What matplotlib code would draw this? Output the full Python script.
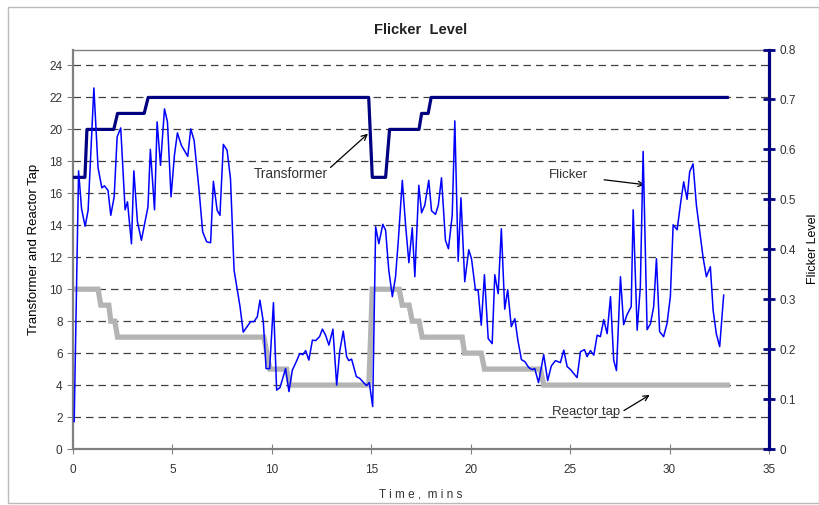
import matplotlib
matplotlib.use("Agg")
import matplotlib.pyplot as plt
from matplotlib.patches import Rectangle

# Flicker (right axis) - time in minutes, flicker level
flicker_t = [0.06, 0.28, 0.43, 0.61, 0.76, 1.05, 1.26, 1.45, 1.58, 1.76, 1.90, 2.07, 2.22, 2.40,
             2.62, 2.74, 2.94, 3.06, 3.24, 3.44, 3.77, 3.89, 4.10, 4.23, 4.40, 4.60, 4.75, 4.93,
             5.10, 5.25, 5.45, 5.77, 5.92, 6.09, 6.34, 6.52, 6.72, 6.92, 7.06, 7.25, 7.39, 7.56,
             7.75, 7.92, 8.10, 8.40, 8.56, 8.93, 9.10, 9.27, 9.40, 9.57, 9.71, 9.89, 10.08, 10.24,
             10.41, 10.69, 10.86, 11.03, 11.23, 11.40, 11.56, 11.70, 11.86, 12.04, 12.20, 12.40,
             12.54, 12.70, 12.87, 13.07, 13.26, 13.41, 13.59, 13.76, 13.87, 14.01, 14.25, 14.43,
             14.66, 14.76, 14.90, 15.07, 15.22, 15.38, 15.58, 15.72, 15.88, 16.06, 16.22, 16.36,
             16.56, 16.72, 16.89, 17.06, 17.19, 17.39, 17.53, 17.69, 17.89, 18.03, 18.23, 18.37,
             18.53, 18.73, 18.88, 19.07, 19.20, 19.37, 19.51, 19.70, 19.90, 20.04, 20.24, 20.37,
             20.53, 20.69, 20.88, 21.08, 21.21, 21.38, 21.54, 21.71, 21.86, 22.04, 22.22, 22.37,
             22.55, 22.72, 22.92, 23.09, 23.22, 23.41, 23.67, 23.87, 24.05, 24.26, 24.51, 24.68,
             24.85, 25.02, 25.35, 25.52, 25.72, 25.85, 26.02, 26.19, 26.36, 26.52, 26.69, 26.86,
             27.03, 27.19, 27.33, 27.53, 27.69, 27.86, 28.07, 28.17, 28.37, 28.53, 28.67, 28.87,
             29.04, 29.20, 29.34, 29.50, 29.70, 29.87, 30.04, 30.18, 30.38, 30.55, 30.71, 30.88,
             31.01, 31.18, 31.35, 31.51, 31.68, 31.85, 32.05, 32.19, 32.35, 32.52, 32.72]
flicker = [0.055, 0.557, 0.481, 0.446, 0.478, 0.723, 0.563, 0.523, 0.527, 0.518, 0.468, 0.505, 0.625, 0.643,
           0.479, 0.495, 0.411, 0.557, 0.455, 0.418, 0.485, 0.600, 0.479, 0.655, 0.568, 0.681, 0.655, 0.505,
           0.588, 0.633, 0.608, 0.586, 0.641, 0.618, 0.518, 0.435, 0.415, 0.413, 0.536, 0.478, 0.468, 0.610,
           0.598, 0.541, 0.358, 0.285, 0.234, 0.255, 0.255, 0.265, 0.298, 0.255, 0.161, 0.161, 0.293, 0.118,
           0.123, 0.161, 0.115, 0.158, 0.175, 0.191, 0.189, 0.197, 0.178, 0.218, 0.217, 0.225,
           0.240, 0.228, 0.208, 0.240, 0.128, 0.195, 0.236, 0.185, 0.177, 0.180, 0.145, 0.141,
           0.131, 0.127, 0.133, 0.085, 0.445, 0.411, 0.450, 0.438, 0.358, 0.305, 0.345, 0.418,
           0.538, 0.451, 0.373, 0.443, 0.345, 0.528, 0.473, 0.488, 0.538, 0.477, 0.470, 0.488,
           0.543, 0.418, 0.401, 0.468, 0.657, 0.376, 0.503, 0.335, 0.399, 0.381, 0.318, 0.319,
           0.248, 0.349, 0.221, 0.211, 0.349, 0.311, 0.441, 0.280, 0.319, 0.245, 0.261, 0.218,
           0.179, 0.175, 0.163, 0.159, 0.161, 0.133, 0.189, 0.137, 0.166, 0.177, 0.173, 0.198,
           0.165, 0.159, 0.143, 0.195, 0.199, 0.185, 0.197, 0.188, 0.228, 0.225, 0.259, 0.231,
           0.305, 0.178, 0.157, 0.345, 0.249, 0.269, 0.285, 0.479, 0.238, 0.325, 0.596, 0.239,
           0.251, 0.285, 0.381, 0.235, 0.225, 0.251, 0.305, 0.449, 0.439, 0.491, 0.535, 0.500,
           0.555, 0.571, 0.488, 0.438, 0.385, 0.345, 0.365, 0.278, 0.231, 0.205, 0.308]

# Transformer tap (left axis)
trans_t = [0.0, 0.6, 0.7, 2.05, 2.24, 3.58, 3.78, 14.87, 15.05, 15.72, 15.92, 17.4, 17.53, 17.86, 18.01, 32.9]
trans_tap = [17, 17, 20, 20, 21, 21, 22, 22, 17, 17, 20, 20, 21, 21, 22, 22]

# Reactor tap (left axis)
reactor_t = [0.0, 1.26, 1.4, 1.8, 1.9, 2.1, 2.24, 9.6, 9.9, 10.74, 10.9, 14.88, 15.05, 16.4, 16.56,
             16.9, 17.06, 17.4, 17.56, 19.57, 19.69, 20.53, 20.69, 23.5, 23.67, 32.9]
reactor_tap = [10, 10, 9, 9, 8, 8, 7, 7, 5, 5, 4, 4, 10, 10, 9, 9, 8, 8, 7, 7, 6, 6, 5, 5, 4, 4]

plt.rcParams['font.family'] = ['Liberation Sans', 'DejaVu Sans']
txt = '#333333'

fig = plt.figure(figsize=(8.2, 5.05), dpi=100)
fig.patches.append(Rectangle((8 / 820, 0.004), 811 / 820, 1 - 7 / 505 - 0.004, transform=fig.transFigure,
                             fill=False, edgecolor='#bbbbbb', linewidth=1))
ax = fig.add_axes([73 / 820, 1 - 449 / 505, (769 - 73) / 820, (449 - 49.5) / 505])

# gridlines
for v in range(2, 25, 2):
    ax.axhline(v, color='#404040', linestyle=(0, (6, 4)), linewidth=0.9, zorder=1)

ax.plot(reactor_t, reactor_tap, color='#b4b4b4', linewidth=3.8, zorder=2, solid_joinstyle='miter')
ax.plot(trans_t, trans_tap, color='#000080', linewidth=2.3, zorder=3)

ax.set_xlim(0, 35)
ax.set_ylim(0, 25)
ax.set_xticks(range(0, 36, 5))
ax.set_yticks(range(0, 25, 2))
ax.tick_params(axis='y', direction='out', length=4, color='#808080', labelsize=8.5, labelcolor=txt)
ax.tick_params(axis='x', direction='inout', length=7, color='#808080', labelsize=8.5, labelcolor=txt, pad=7)
for s in ['left', 'bottom', 'top']:
    ax.spines[s].set_color('#808080')
ax.spines['left'].set_linewidth(1.6)
ax.spines['bottom'].set_linewidth(1.6)
ax.spines['top'].set_linewidth(1.0)
ax.set_ylabel('Transformer and Reactor Tap', fontsize=9.5, color='black', labelpad=7)
ax.set_xlabel('T i m e ,  m i n s', fontsize=8.5, color=txt, labelpad=9)
ax.set_title('Flicker  Level', fontsize=10.5, fontweight='bold', color='#222222', pad=11)

ax2 = ax.twinx()
ax2.plot(flicker_t, flicker, color='#0000ff', linewidth=1.1, zorder=4)
ax2.set_ylim(0, 0.8)
ax2.set_yticks([0, 0.1, 0.2, 0.3, 0.4, 0.5, 0.6, 0.7, 0.8])
ax2.set_yticklabels(['0', '0.1', '0.2', '0.3', '0.4', '0.5', '0.6', '0.7', '0.8'])
ax2.tick_params(axis='y', direction='inout', length=8, width=2, color='#000080', labelsize=8.5, labelcolor=txt)
ax2.spines['right'].set_color('#000080')
ax2.spines['right'].set_linewidth(2.3)
for s in ['left', 'bottom', 'top']:
    ax2.spines[s].set_visible(False)
ax2.set_ylabel('Flicker Level', fontsize=9, color='black', labelpad=8)

# annotations
ax.annotate('Transformer', xy=(14.83, 19.73), xytext=(10.95, 17.2), fontsize=9.8, color=txt,
            ha='center', va='center', zorder=6,
            arrowprops=dict(arrowstyle='->', color='black', lw=0.9, shrinkA=0, shrinkB=0,
                            relpos=(1.0, 0.8)))
ax.annotate('Flicker', xy=(28.75, 16.54), xytext=(24.89, 17.12), fontsize=9.5, color=txt,
            ha='center', va='center', zorder=6,
            arrowprops=dict(arrowstyle='->', color='black', lw=0.9, shrinkA=10, shrinkB=0))
ax.annotate('Reactor tap', xy=(29.0, 3.38), xytext=(25.82, 2.33), fontsize=9.5, color=txt,
            ha='center', va='center', zorder=6,
            arrowprops=dict(arrowstyle='->', color='black', lw=0.9, shrinkA=0, shrinkB=0,
                            relpos=(1.05, 0.6)))

fig.savefig('out.png', dpi=100)
